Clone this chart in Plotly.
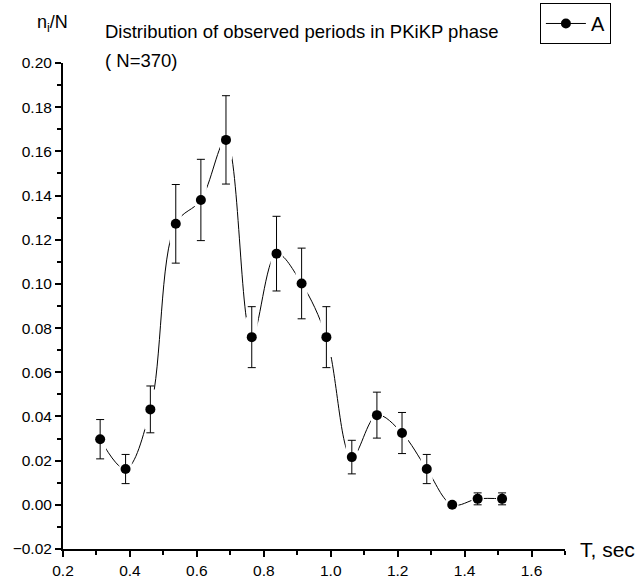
import plotly.graph_objects as go

# Data
period = [0.311, 0.387, 0.461, 0.537, 0.612, 0.687, 0.764, 0.838, 0.913,
          0.987, 1.063, 1.138, 1.213, 1.287, 1.363, 1.439, 1.512]
fraction = [0.0297, 0.0162, 0.0432, 0.1272, 0.1380, 0.1652, 0.0759, 0.1137,
            0.1002, 0.0759, 0.0216, 0.0406, 0.0325, 0.0162, 0.0, 0.0027, 0.0027]
error = [0.0089, 0.0066, 0.0106, 0.0178, 0.0184, 0.0200, 0.0138, 0.0169,
         0.0160, 0.0138, 0.0076, 0.0104, 0.0093, 0.0066, 0.0, 0.0027, 0.0027]
gap_halfheight = [0.009] * len(period)   # vertical extent of the gap band

x_ticks = [0.2, 0.4, 0.6, 0.8, 1.0, 1.2, 1.4, 1.6]
X_RANGE = [0.2, 1.7]
Y_RANGE = [-0.02, 0.20]

FONT = "Arial, Liberation Sans, sans-serif"

fig = go.Figure()

# smooth connecting curve (main axes, bottom layer)
fig.add_trace(go.Scatter(
    x=period, y=fraction, mode="lines",
    line=dict(color="black", width=1, shape="spline", smoothing=1.0),
    showlegend=False, hoverinfo="skip"))

# white bands that create the gaps of the curve around each symbol
fig.add_trace(go.Scatter(
    x=period, y=fraction, mode="markers", xaxis="x2", yaxis="y2",
    marker=dict(symbol="square", size=12, color="white", opacity=1),
    error_y=dict(type="data", array=gap_halfheight, visible=True,
                 color="white", thickness=12, width=0),
    showlegend=False, hoverinfo="skip"))

# points with error bars
fig.add_trace(go.Scatter(
    x=period, y=fraction, mode="markers", xaxis="x2", yaxis="y2",
    marker=dict(symbol="circle", size=10, color="black"),
    error_y=dict(type="data", array=error, visible=True,
                 color="black", thickness=1, width=4),
    showlegend=False))

# legend entry
fig.add_trace(go.Scatter(
    x=[None], y=[None], mode="lines+markers", name="A",
    line=dict(color="black", width=1),
    marker=dict(symbol="circle", size=10, color="black")))

fig.update_layout(
    width=635, height=582,
    margin=dict(l=63, r=70, t=63, b=33, autoexpand=False),
    paper_bgcolor="white", plot_bgcolor="white",
    font=dict(family=FONT, color="black", size=14),
    showlegend=True,
    legend=dict(x=0.950, y=1.1235, xanchor="left", yanchor="top",
                bordercolor="black", borderwidth=1,
                font=dict(size=20, family=FONT, color="black"),
                bgcolor="white", itemwidth=40,
                tracegroupgap=0),
    xaxis=dict(range=X_RANGE, tickvals=x_ticks, tickformat=".1f",
               showline=True, linecolor="black", linewidth=2,
               ticks="outside", ticklen=6, tickwidth=2, tickcolor="black",
               minor=dict(dtick=0.1, tick0=0.2, ticks="outside", ticklen=4,
                          tickwidth=2, tickcolor="black"),
               showgrid=False, zeroline=False,
               tickfont=dict(size=15.5, family=FONT, color="black")),
    yaxis=dict(range=Y_RANGE, dtick=0.02, tick0=0, tickformat=".2f",
               showline=True, linecolor="black", linewidth=2,
               ticks="outside", ticklen=6, tickwidth=2, tickcolor="black",
               minor=dict(dtick=0.01, tick0=0, ticks="outside", ticklen=4,
                          tickwidth=2, tickcolor="black"),
               showgrid=False, zeroline=False,
               tickfont=dict(size=15.5, family=FONT, color="black")),
    xaxis2=dict(range=X_RANGE, overlaying="x", anchor="y2", visible=False,
                showgrid=False, zeroline=False),
    yaxis2=dict(range=Y_RANGE, overlaying="y", anchor="x2", visible=False,
                showgrid=False, zeroline=False),
    annotations=[
        dict(text="n<sub>i</sub>/N", xref="paper", yref="paper",
             x=-0.056, y=1.082, xanchor="left", yanchor="middle",
             showarrow=False, font=dict(size=18, family=FONT, color="black")),
        dict(text="Distribution of observed periods in PKiKP phase",
             xref="paper", yref="paper", x=0.080, y=1.065,
             xanchor="left", yanchor="middle", showarrow=False,
             font=dict(size=18.5, family=FONT, color="black")),
        dict(text="( N=370)", xref="paper", yref="paper", x=0.080, y=1.005,
             xanchor="left", yanchor="middle", showarrow=False,
             font=dict(size=18.5, family=FONT, color="black")),
        dict(text="T, sec", xref="paper", yref="paper", x=1.026, y=0.0,
             xanchor="left", yanchor="middle", showarrow=False,
             font=dict(size=21, family=FONT, color="black")),
    ],
)

fig.write_html("out.html")
